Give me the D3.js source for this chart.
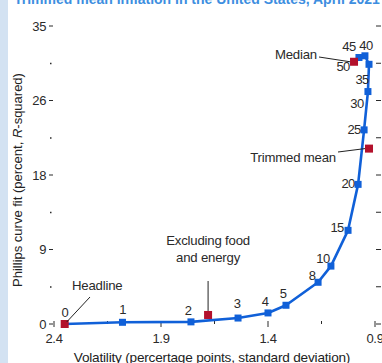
<!DOCTYPE html>
<html><head><meta charset="utf-8">
<script src="https://cdn.jsdelivr.net/npm/d3@7"></script>
<style>
body{margin:0;background:#fff;}
svg{display:block;font-family:"Liberation Sans",Arial,sans-serif;}
</style></head>
<body>
<script>
// ---- data ----
const trimPct    = [0, 1, 2, 3, 4, 5, 8, 10, 15, 20, 25, 30, 35, 40, 45, 50];
const volatility = [2.35, 2.08, 1.76, 1.54, 1.40, 1.316, 1.166, 1.106, 1.026, 0.979, 0.951, 0.933, 0.928, 0.947, 0.975, 0.998];
const curveFit   = [0, 0.2, 0.25, 0.7, 1.3, 2.2, 4.9, 6.8, 11.0, 16.4, 22.8, 27.3, 30.5, 31.5, 31.3, 30.8];
const measureNames = ["Headline", "Excluding food and energy", "Trimmed mean", "Median"];
const measureVol   = [2.35, 1.68, 0.928, 0.998];
const measureFit   = [0, 1.06, 20.6, 30.8];
const xTicks = [2.4, 1.9, 1.4, 0.9];
const xTickLabels = ["2.4", "1.9", "1.4", "0.9"];
const yTicks = [0, 8.75, 17.5, 26.25, 35];
const yTickLabels = ["0", "9", "18", "26", "35"];
const title = "Trimmed mean inflation in the United States, April 2021";
const xTitle = "Volatility (percertage points, standard deviation)";

// ---- layout ----
const W = 382, H = 363;
const svg = d3.select("body").append("svg").attr("width", W).attr("height", H);
svg.append("rect").attr("x",0).attr("y",0).attr("width",8).attr("height",H).attr("fill","#d3e2f2");
svg.append("text").attr("x",14).attr("y",4).attr("font-size",14).attr("font-weight","bold")
  .attr("fill","#3d8ee0").text(title);

const x = d3.scaleLinear().domain([2.4, 0.9]).range([54, 375]);
const y = d3.scaleLinear().domain([0, 35]).range([324, 26]);
const blue = "#1060d8", red = "#b3112c", ink = "#2a2a2a";
const fs = 13;

// y axis left
const yMinor = d3.range(4).map(i => (yTicks[i] + yTicks[i+1]) / 2);
const yl = svg.append("g").attr("transform", `translate(${x(2.4)},0)`);
yl.selectAll("line.maj").data(yTicks).join("line").attr("class","maj")
  .attr("x1",-5).attr("x2",-1).attr("y1",d=>y(d)).attr("y2",d=>y(d)).attr("stroke",ink).attr("stroke-width",1);
yl.selectAll("rect.min").data(yMinor).join("rect").attr("class","min")
  .attr("x",-4).attr("y",d=>y(d)-0.5).attr("width",1.5).attr("height",1.5).attr("fill",ink);
yl.selectAll("text").data(yTicks).join("text")
  .attr("x",-8).attr("y",d=>y(d)).attr("dy","0.35em").attr("text-anchor","end")
  .attr("font-size",fs).attr("fill",ink).attr("letter-spacing",-0.4).text((d,i)=>yTickLabels[i]);

// right ticks
const yAll = yTicks.concat(yMinor);
svg.append("g").selectAll("line").data(yAll).join("line")
  .attr("x1",x(0.9)+1).attr("x2",x(0.9)+6).attr("y1",d=>y(d)).attr("y2",d=>y(d))
  .attr("stroke",ink).attr("stroke-width",1);

// x axis ticks
const xMinor = d3.range(3).map(i => (xTicks[i] + xTicks[i+1]) / 2);
const xa = svg.append("g");
xa.selectAll("line.maj").data(xTicks).join("line").attr("class","maj")
  .attr("x1",d=>x(d)).attr("x2",d=>x(d)).attr("y1",y(0)-3).attr("y2",y(0)+3).attr("stroke",ink);
xa.selectAll("line.min").data(xMinor).join("line").attr("class","min")
  .attr("x1",d=>x(d)).attr("x2",d=>x(d)).attr("y1",y(0)-3).attr("y2",y(0)).attr("stroke",ink);
xa.selectAll("text").data(xTicks).join("text")
  .attr("x",d=>x(d)).attr("y",y(0)+19).attr("text-anchor","middle")
  .attr("font-size",fs).attr("fill",ink).attr("letter-spacing",-0.3).text((d,i)=>xTickLabels[i]);
svg.append("text").attr("x",212).attr("y",362).attr("text-anchor","middle")
  .attr("font-size",13.6).attr("fill","#222").attr("letter-spacing",-0.2).text(xTitle);
svg.append("text").attr("transform","translate(22,180) rotate(-90)").attr("text-anchor","middle")
  .attr("font-size",fs).attr("fill","#222")
  .html('Phillips curve fit (percent, <tspan font-style="italic">R</tspan>-squared)');

// line
const pts = trimPct.map((p,i)=>({p, v:volatility[i], f:curveFit[i]}));
svg.append("path").datum(pts)
  .attr("d", d3.line().x(d=>x(d.v)).y(d=>y(d.f)))
  .attr("fill","none").attr("stroke",blue).attr("stroke-width",2.6).attr("stroke-linejoin","round");
const ms = 7;
svg.append("g").selectAll("rect").data(pts.filter(d=>d.p>0 && d.p<50)).join("rect")
  .attr("x",d=>x(d.v)-ms/2).attr("y",d=>y(d.f)-ms/2).attr("width",ms).attr("height",ms).attr("fill",blue);

// point labels (offsets from the marker)
const labelDx = [0, 0, -3, -1, -3, -3, -6, -8, -11, -10, -10, -11, -7, 1, -10, -11];
const labelDy = [-12, -13, -11, -15, -11, -12, -7, -8, -3, -1, 0, 12, 15, -10, -11, 5];
svg.append("g").selectAll("text").data(pts).join("text")
  .attr("x",(d,i)=>x(d.v)+labelDx[i]).attr("y",(d,i)=>y(d.f)+labelDy[i]).attr("dy","0.35em")
  .attr("text-anchor","middle").attr("font-size",fs).attr("fill",ink).attr("letter-spacing",-0.6)
  .text(d=>d.p);

// measures
const ms2 = 8;
const meas = measureNames.map((n,i)=>({n, v:measureVol[i], f:measureFit[i]}));
svg.append("g").selectAll("rect").data(meas).join("rect")
  .attr("x",d=>x(d.v)-ms2/2).attr("y",d=>y(d.f)-ms2/2).attr("width",ms2).attr("height",ms2).attr("fill",red);

// annotations
const ann = svg.append("g").attr("font-size",13.2).attr("fill",ink).attr("letter-spacing",-0.2);
const lnk = (x1,y1,x2,y2)=>svg.append("line").attr("x1",x1).attr("y1",y1).attr("x2",x2).attr("y2",y2).attr("stroke","#222").attr("stroke-width",1);
// Headline
ann.append("text").attr("x",72).attr("y",y(0)-34).text("Headline");
lnk(90, y(0)-27, x(measureVol[0])+2, y(0)-2);
// Excluding food and energy
ann.append("text").attr("x",x(measureVol[1])).attr("y",245).attr("text-anchor","middle").text("Excluding food");
ann.append("text").attr("x",x(measureVol[1])).attr("y",262).attr("text-anchor","middle").text("and energy");
lnk(x(measureVol[1]), 281, x(measureVol[1]), y(measureFit[1])-4);
// Trimmed mean
ann.append("text").attr("x",336).attr("y",162).attr("text-anchor","end").text("Trimmed mean");
lnk(338, 152, x(measureVol[2])-4, y(measureFit[2]));
// Median
ann.append("text").attr("x",317).attr("y",59).attr("text-anchor","end").text("Median");
lnk(319, 57, x(measureVol[3])-4, y(measureFit[3]));
</script>
</body></html>
